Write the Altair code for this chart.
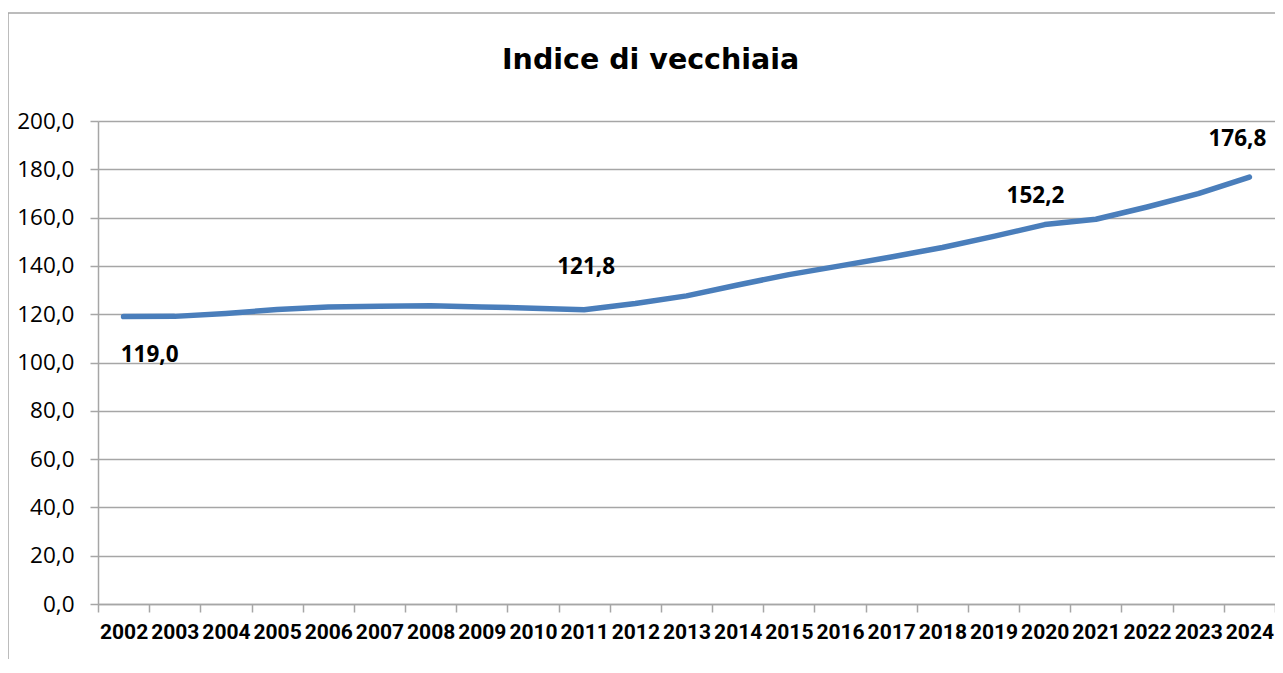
import altair as alt
import pandas as pd

years = ["2002", "2003", "2004", "2005", "2006", "2007", "2008", "2009", "2010", "2011", "2012",
         "2013", "2014", "2015", "2016", "2017", "2018", "2019", "2020", "2021", "2022", "2023", "2024"]
values = [119.0, 119.1, 120.3, 121.9, 123.0, 123.3, 123.5, 123.0, 122.5, 121.8, 124.4,
          127.6, 132.1, 136.4, 140.0, 143.7, 147.6, 152.2, 157.1, 159.3, 164.4, 169.9, 176.8]
y_ticks = [0, 20, 40, 60, 80, 100, 120, 140, 160, 180, 200]
label_years = ["2002", "2011", "2019", "2024"]

df = pd.DataFrame({"anno": years, "indice": values})
df["etichetta"] = df["indice"].map(lambda v: f"{v:.1f}".replace(".", ","))

W, H = 1177, 483
GRAY = "#A6A6A6"
BLUE = "#4A7EBB"

x_enc = alt.X(
    "anno:N", sort=None, bandPosition=0.5,
    scale=alt.Scale(type="band", paddingInner=0, paddingOuter=0),
    axis=alt.Axis(
        title=None, tickBand="extent", labelAngle=0, grid=False,
        labelFont="Roboto", labelFontSize=21, labelFontWeight="bold", labelColor="#000000",
        labelPadding=9, tickSize=8, tickColor=GRAY, tickWidth=1.5,
        domainColor=GRAY, domainWidth=1.5,
    ),
)
y_enc = alt.Y(
    "indice:Q",
    scale=alt.Scale(domain=[0, 200], nice=False, zero=True),
    axis=alt.Axis(
        title=None, values=y_ticks,
        labelExpr="replace(format(datum.value, '.1f'), '.', ',')",
        labelFont="Open Sans", labelFontSize=22.5, labelColor="#000000",
        labelPadding=16, tickSize=8, tickColor=GRAY, tickWidth=1.5,
        domainColor=GRAY, domainWidth=1.5,
        grid=True, gridColor=GRAY, gridWidth=1.5,
    ),
)

base = alt.Chart(df)

line = base.mark_line(color=BLUE, strokeWidth=5.5, strokeCap="round", strokeJoin="round").encode(
    x=x_enc, y=y_enc
)

label_style = dict(font="Open Sans", fontSize=22.5, fontWeight="bold", color="#000000", baseline="middle", align="center")
offsets = {"2002": (26, 38), "2011": (2, -43), "2019": (42, -40), "2024": (-12, -38)}
text_layers = []
for yr in label_years:
    dx, dy = offsets[yr]
    text_layers.append(
        base.transform_filter(alt.datum.anno == yr)
        .mark_text(dx=dx, dy=dy, **label_style)
        .encode(x=alt.X("anno:N", sort=None, bandPosition=0.5), y="indice:Q", text="etichetta:N")
    )

one = alt.Data(values=[{}])
border_left = alt.Chart(one).mark_rule(color=GRAY, strokeWidth=1.5).encode(
    x=alt.value(-90), y=alt.value(-108), y2=alt.value(H + 80)
)
border_top = alt.Chart(one).mark_rule(color=GRAY, strokeWidth=1.5).encode(
    x=alt.value(-90), x2=alt.value(W + 40), y=alt.value(-108)
)

chart = alt.layer(border_left, border_top, line, *text_layers).properties(
    width=W, height=H,
    padding={"left": 90, "top": 113, "right": 0, "bottom": 55},
    autosize=alt.AutoSizeParams(type="none"),
    title=alt.TitleParams(
        "Indice di vecchiaia", font="DejaVu Sans", fontSize=28.5, fontWeight="bold",
        color="#000000", anchor="start", frame="group", dx=404, offset=-62,
    ),
    background="white",
).configure_view(stroke=None)

chart.save("out.html", embed_options={"renderer": "svg", "actions": False})
